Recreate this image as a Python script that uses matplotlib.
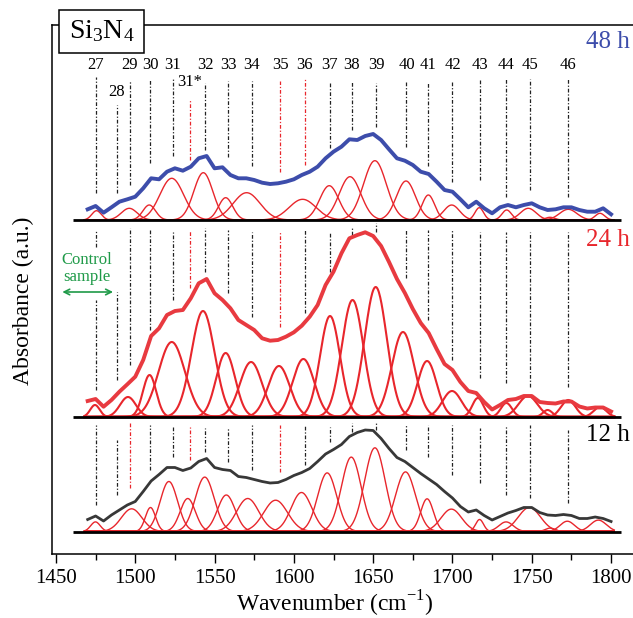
import numpy as np
import matplotlib
matplotlib.use('Agg')
import matplotlib.pyplot as plt
from matplotlib.patches import Rectangle

plt.rcParams['font.family'] = ['Liberation Serif', 'DejaVu Serif']
plt.rcParams['mathtext.fontset'] = 'custom'
plt.rcParams['mathtext.rm'] = 'Liberation Serif'

# band labels and positions (cm-1)
band_labels = ['27', '28', '29', '30', '31', '31*', '32', '33', '34', '35', '36',
               '37', '38', '39', '40', '41', '42', '43', '44', '45', '46']
band_pos = [1475.2, 1488.2, 1496.5, 1509.5, 1523.5, 1534.2, 1544.0, 1558.5, 1573.5,
            1591.5, 1607.0, 1622.5, 1636.6, 1651.8, 1671.0, 1684.8, 1700.0, 1717.5,
            1734.0, 1748.7, 1772.8]

# fitted components: centre, height, width (a.u.)
c48 = [1475.6, 1496.2, 1508.8, 1523.0, 1542.9, 1557.0, 1570.2, 1605.5, 1622.3, 1635.4,
       1651.1, 1670.7, 1684.8, 1699.5, 1716.9, 1734.2, 1747.8, 1761.5, 1773.0, 1793.0]
h48 = [9.3, 11.7, 15.0, 41.7, 47.3, 22.3, 27.3, 20.7, 34.3, 43.3,
       59.3, 39.0, 25.0, 15.0, 12.3, 10.0, 11.7, 2.7, 10.7, 6.7]
w48 = [3.0, 5.0, 4.0, 7.5, 6.0, 4.5, 8.5, 8.5, 6.0, 6.8,
       7.2, 6.0, 4.0, 5.0, 2.7, 3.0, 5.0, 3.0, 5.5, 3.0]

c24 = [1474.6, 1495.4, 1509.0, 1523.0, 1542.7, 1557.0, 1573.0, 1590.6, 1606.0, 1622.8,
       1637.0, 1651.6, 1668.8, 1684.0, 1699.7, 1716.0, 1734.0, 1747.6, 1760.0, 1773.0, 1793.0]
h24 = [12, 20, 42, 75, 106, 64, 55, 51, 58, 101,
       117, 130, 85, 56, 26, 19, 14, 21, 7, 17, 10]
w24 = [3.0, 5.0, 4.2, 8.3, 7.3, 6.0, 7.0, 6.8, 6.8, 6.3,
       6.8, 7.0, 7.0, 6.0, 6.0, 3.5, 3.5, 6.0, 3.0, 4.5, 4.0]

c12 = [1474.9, 1497.7, 1509.6, 1521.2, 1533.1, 1543.8, 1557.4, 1570.9, 1588.5, 1604.8, 1621.0,
       1636.2, 1651.1, 1670.4, 1684.0, 1699.3, 1717.1, 1733.8, 1748.5, 1761.6, 1772.4, 1792.0]
h12 = [9.6, 22.7, 24, 50, 33, 54.4, 36.5, 33, 31.3, 39, 58.6,
       74.4, 83.7, 59.6, 32.7, 22.4, 12, 9.6, 24, 3.4, 10.3, 11.4]
w12 = [3.0, 6.5, 3.2, 5.5, 4.8, 6.0, 5.5, 7.0, 7.5, 6.5, 6.0,
       6.2, 6.5, 6.3, 4.0, 6.5, 2.5, 4.5, 7.0, 3.0, 4.5, 5.0]

# measured envelope spectra, 1470-1800 cm-1 every 5 cm-1
wn = np.arange(1470, 1801, 5)
env48 = [10.7, 14, 7.3, 12.7, 18.3, 20.7, 23.3, 31.7, 41.7, 40.7, 48.3, 51.7, 49.3, 53.3,
         61.7, 64, 51.7, 52.7, 45, 41.7, 41.7, 40, 37.3, 36, 36.7, 38.3, 40.7, 45, 48.3,
         53.3, 61.7, 68.3, 73.3, 80.7, 80, 84, 86, 80, 70.7, 61.7, 59.3, 55, 48.3, 46,
         38.3, 30, 28.3, 20.7, 12.7, 18.3, 11.7, 6.7, 12.7, 15, 12.7, 15, 16.7, 12.7, 10,
         10.7, 12.7, 12.7, 10, 8.3, 8.3, 11.7, 5.7]
env24 = [16, 18, 10.3, 17, 25.3, 32.7, 40.3, 57, 81, 88.7, 102, 106, 107, 118.7,
         133.7, 138, 123.7, 117, 108.7, 97, 92, 87, 78.7, 76.3, 77, 80.3, 84.7, 91.3, 100.3,
         112, 132, 145.3, 163.7, 178.7, 182, 184.7, 181, 171, 155, 138, 124, 108, 94, 84,
         68, 53, 47, 35, 26, 24, 15, 7.5, 12, 17, 18, 21, 21, 15, 14,
         13.5, 15.5, 15.5, 10.5, 8.5, 9.5, 9.5, 5.5]
env12 = [12, 15.5, 10.5, 16.5, 21.5, 26.5, 30, 40, 50.5, 57, 64, 64, 61, 63.5,
         70, 73, 64, 62, 61, 55, 54, 52, 50, 48.5, 49, 52, 56, 59, 63,
         70, 77.5, 82, 87, 95, 99, 101.5, 101, 93, 83, 74, 70, 64, 58, 52.5,
         47, 40, 33.5, 25, 19.5, 21.5, 16, 11.5, 15, 18.5, 21, 24, 24, 19, 16.5,
         16, 17, 16, 13, 13, 14.5, 13, 10]

# layout (axes y units = pixels above the x axis)
base48, base24, base12 = 334, 137, 22.5
top48 = [477, 449, 473, 474, 475, 454, 471, 473, 473, 473, 475, 471, 473, 471, 472, 472, 473, 474, 475, 475, 475]
bot48 = [361, 361, 369, 391, 398, 394, 404, 397, 388, 382, 389, 406, 424, 427, 407, 388, 372, 374, 357, 364, 357]
top24 = [324, 262, 326, 324, 322, 324, 326, 324, 322, 322, 324, 322, 326, 331, 324, 324, 324, 322, 322, 322, 322]
bot24 = [307, 174, 189, 224, 254, 266, 282, 261, 237, 227, 241, 282, 319, 322, 276, 234, 194, 176, 171, 167, 167]
top12 = [129, 114, 131, 129, 127, 127, 126, 127, 129, 129, 129, 127, 131, 132, 129, 129, 129, 126, 129, 129, 124]
bot12 = [49, 59, 66, 84, 97, 94, 102, 92, 84, 82, 89, 112, 122, 124, 104, 97, 79, 71, 59, 56, 51]
red48 = ['31*', '35', '36']
red24 = ['31*', '35']
red12 = ['29', '31*', '35']

RED = '#e8262c'
BLUE = '#3d4dab'
GREEN = '#1f9a48'
DASH = (0, (3, 1.5, 1, 1.5))

fig = plt.figure(figsize=(6.33, 6.18), dpi=100)
ax = fig.add_axes([52/633, 1-554/618, (645-52)/633, (554-25)/618])
ax.set_xlim(1447.5, 1821.4)
ax.set_ylim(0, 529)

xg = np.linspace(1468, 1802, 800)


def panel(base, cen, hgt, wid, env, ecol, elw, clw, top, bot, reds):
    for c, h, w in zip(cen, hgt, wid):
        ax.plot(xg, base + h*np.exp(-(xg-c)**2/(2*w*w)), color=RED, lw=clw, zorder=2)
    ax.plot([1461, 1806], [base, base], color='black', lw=2.0, zorder=3, solid_capstyle='butt')
    ax.plot(wn, base + np.array(env), color=ecol, lw=elw, zorder=4)
    for lab, p, t, b in zip(band_labels, band_pos, top, bot):
        col = RED if lab in reds else '#222222'
        ax.plot([p, p], [b, t], color=col, lw=0.9, ls=DASH, zorder=1)


panel(base48, c48, h48, w48, env48, BLUE, 2.8, 1.0, top48, bot48, red48)
panel(base24, c24, h24, w24, env24, '#e83a40', 2.8, 1.5, top24, bot24, red24)
panel(base12, c12, h12, w12, env12, '#383838', 2.0, 1.0, top12, bot12, red12)
# lower segment of band 27 in the 24 h panel
ax.plot([band_pos[0]]*2, [164, 254], color='#222222', lw=0.9, ls=DASH, zorder=1)

for lab, p in zip(band_labels, band_pos):
    y = 489
    if lab == '28':
        y = 462
    elif lab == '31*':
        y = 472
    ax.text(p, y, lab, ha='center', va='center', fontsize=12)

ax.text(1812, 512, '48 h', ha='right', va='center', fontsize=18, color=BLUE)
ax.text(1812, 314, '24 h', ha='right', va='center', fontsize=18, color=RED)
ax.text(1812, 119, '12 h', ha='right', va='center', fontsize=18, color='black')

ax.text(1469.5, 294, 'Control', ha='center', va='center', fontsize=12, color=GREEN)
ax.text(1469.5, 277, 'sample', ha='center', va='center', fontsize=12, color=GREEN)
ax.annotate('', xy=(1454.0, 262), xytext=(1486.0, 262),
            arrowprops=dict(arrowstyle='<->', color=GREEN, lw=1.2, shrinkA=0, shrinkB=0))

ax.spines['right'].set_visible(False)
for s in ['left', 'top', 'bottom']:
    ax.spines[s].set_linewidth(1.1)
ax.set_yticks([])
ax.set_xticks(np.arange(1450, 1801, 50))
ax.set_xticks(np.arange(1475, 1800, 50), minor=True)
ax.tick_params(axis='x', which='major', direction='out', length=6.7, width=1.0, labelsize=15, pad=4)
ax.tick_params(axis='x', which='minor', direction='out', length=4.3, width=1.0)

fig.text(335/633, 1-604/618, 'Wavenumber (cm$^{\\mathregular{-1}}$)', ha='center', va='center', fontsize=17)
fig.text(23/633, 1-301/618, 'Absorbance (a.u.)', ha='center', va='center', rotation=90, fontsize=17)

fig.add_artist(Rectangle((59/633, 1-53/618), 85/633, 43/618, transform=fig.transFigure,
                         facecolor='white', edgecolor='black', lw=1.1, zorder=10))
fig.text(101.5/633, 1-31.5/618, r'$\mathregular{Si_3N_4}$', ha='center', va='center', fontsize=20, zorder=11)

fig.savefig('out.png', dpi=100)
